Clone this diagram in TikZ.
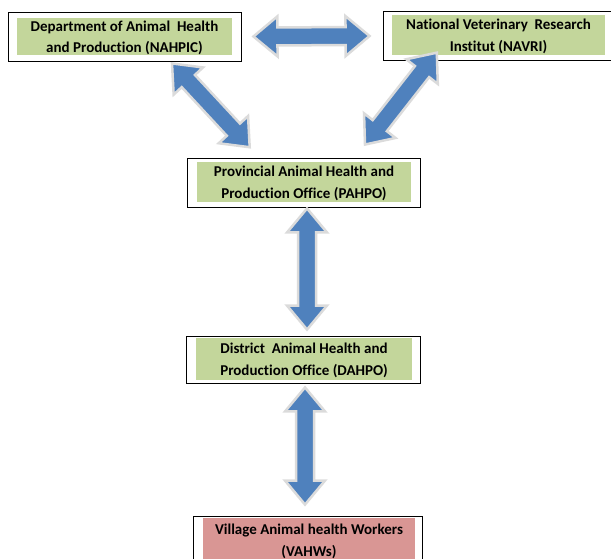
\documentclass[tikz,border=0pt]{standalone}
\usepackage{fontspec}
\setmainfont{Carlito}[Ligatures=CommonOff]
\usetikzlibrary{calc}
\definecolor{boxgreen}{HTML}{C3D69B}
\definecolor{boxpink}{HTML}{D99694}
\definecolor{arrowblue}{HTML}{4F81BD}
\tikzset{
  outerbox/.style={draw=black, line width=0.9pt, fill=white, minimum width=233, minimum height=49, inner sep=0pt},
  textbox/.style={fill=boxgreen, minimum width=215, minimum height=38, inner sep=0pt, align=center, text depth=0pt, font=\fontsize{15}{21.5}\selectfont\bfseries},
  blockarrow/.style={fill=arrowblue, draw=black!14, line width=2.5pt, line join=miter}
}
% double block arrow from one named point to another
\newcommand{\dblarrow}[2]{%
  \path let \p1=(#1), \p2=(#2) in
    \pgfextra{\pgfmathsetmacro{\arrang}{atan2(\y2-\y1,\x2-\x1)}\pgfmathsetmacro{\arrlen}{veclen(\x2-\x1,\y2-\y1)}%
      \global\let\arrang\arrang\global\let\arrlen\arrlen};
  \begin{scope}[shift={(#1)}, rotate=\arrang]
    \draw[blockarrow] (0,0) -- (24,20) -- (24,9) -- (\arrlen-24,9) -- (\arrlen-24,20) -- (\arrlen,0)
      -- (\arrlen-24,-20) -- (\arrlen-24,-9) -- (24,-9) -- (24,-20) -- cycle;
  \end{scope}}

\begin{document}
\begin{tikzpicture}[x=1pt, y=-1pt]
\useasboundingbox (0,0) rectangle (611,559);

% boxes
\node [outerbox] (nahpic) at (124.5,36.5) {};
\node [textbox, minimum height=37] (nahpic-txt) at (124.5,36.5) {Department of Animal\ \ Health\\and Production (NAHPIC)};
\node [outerbox, minimum width=231] (navri) at (498.5,35.5) {};
\node [textbox, minimum width=213, minimum height=40] (navri-txt) at (498.5,35) {National Veterinary\ \ Research\\Institut (NAVRI)};
\node [outerbox] (pahpo) at (303.5,182.5) {};
\node [textbox, minimum width=214, minimum height=40] (pahpo-txt) at (304,182) {Provincial Animal Health and\\Production Office (PAHPO)};
\node [outerbox, minimum width=234, minimum height=47] (dahpo) at (303,359.5) {};
\node [textbox, minimum width=216, minimum height=42] (dahpo-txt) at (304,359) {District\ \ Animal Health and\\Production Office (DAHPO)};
\node [outerbox, minimum width=229, minimum height=46] (vahws) at (307.5,539) {};
\node [textbox, fill=boxpink, minimum width=212, minimum height=44] (vahws-txt) at (309,540) {Village Animal health Workers\\(VAHWs)};

% arrow ends
\coordinate (h1) at ($(nahpic.east)+(12,0)$);
\coordinate (h2) at ($(navri.west)+(-13,0.5)$);
\coordinate (d1) at ($(nahpic.south)+(47.5,2)$);
\coordinate (d2) at ($(pahpo.north)+(-53.5,-10)$);
\coordinate (e1) at ($(pahpo.north)+(61.5,-13)$);
\coordinate (e2) at ($(navri.south)+(-61.5,-8)$);
\coordinate (v1) at ($(pahpo.south)+(3.5,1)$);
\coordinate (v2) at ($(dahpo.north)+(4,-6)$);
\coordinate (w1) at ($(dahpo.south)+(2,4)$);
\coordinate (w2) at ($(vahws.north)+(-2.5,-11)$);

% arrows
\dblarrow{h1}{h2}
\dblarrow{d1}{d2}
\dblarrow{e1}{e2}
\dblarrow{v1}{v2}
\dblarrow{w1}{w2}
\end{tikzpicture}
\end{document}
